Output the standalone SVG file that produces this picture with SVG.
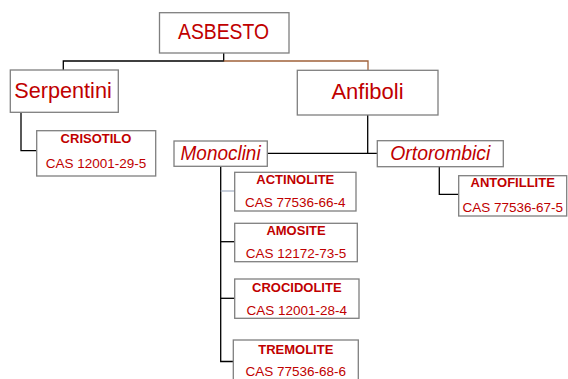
<svg xmlns="http://www.w3.org/2000/svg" width="568" height="379" viewBox="0 0 568 379">
<style>
.box{fill:#fff;stroke:#7f7f7f;stroke-width:1.3}
.big{font-family:"Liberation Sans",Arial,sans-serif;font-size:22px;fill:#c00000;text-anchor:middle}
.it{font-family:"Liberation Sans",Arial,sans-serif;font-size:19.5px;font-style:italic;fill:#c00000;text-anchor:middle}
.nm{font-family:"Liberation Sans",Arial,sans-serif;font-size:13px;font-weight:bold;fill:#c00000;text-anchor:middle}
.cas{font-family:"Liberation Sans",Arial,sans-serif;font-size:13.5px;fill:#c00000;text-anchor:middle}
.ln{fill:none;stroke:#000;stroke-width:1.3}
</style>
<rect width="568" height="379" fill="#fff"/>
<g id="connectors">
<polyline class="ln" points="223.7,53 223.7,61 63.3,61 63.3,70"/>
<polyline class="ln" points="223.7,61 368,61 368,70.3" style="stroke:#a0623a"/>
<polyline class="ln" points="21,112.3 21,150.7 36.7,150.7"/>
<polyline class="ln" points="367.7,115 367.7,153.3"/>
<line class="ln" x1="267.3" y1="153.3" x2="377.3" y2="153.3"/>
<polyline class="ln" points="439.3,166.7 439.3,194.3 458.7,194.3"/>
<polyline class="ln" points="220.7,166.3 220.7,361.5 233.3,361.5"/>
<line class="ln" x1="220.7" y1="191" x2="234.7" y2="191" style="stroke:#a9b4c6"/>
<line class="ln" x1="220.7" y1="241.7" x2="234.7" y2="241.7"/>
<line class="ln" x1="220.7" y1="298.3" x2="234.7" y2="298.3"/>
</g>
<g id="asbesto">
<rect class="box" x="159.5" y="12.7" width="129.5" height="40.3"/>
<text class="big" x="223.5" y="39" textLength="91" lengthAdjust="spacingAndGlyphs">ASBESTO</text>
</g>
<g id="serpentini">
<rect class="box" x="10.3" y="70" width="108" height="42.3"/>
<text class="big" x="63" y="97.7" textLength="97.5" lengthAdjust="spacingAndGlyphs">Serpentini</text>
</g>
<g id="anfiboli">
<rect class="box" x="297.3" y="70.3" width="140.7" height="44.7"/>
<text class="big" x="367.5" y="99.3">Anfiboli</text>
</g>
<g id="crisotilo">
<rect class="box" x="36.7" y="130.7" width="119" height="45.3"/>
<text class="nm" x="96" y="143.3">CRISOTILO</text>
<text class="cas" x="96" y="168">CAS 12001-29-5</text>
</g>
<g id="monoclini">
<rect class="box" x="174" y="141" width="93.3" height="25.3"/>
<text class="it" x="220.6" y="159.5" textLength="80" lengthAdjust="spacingAndGlyphs">Monoclini</text>
</g>
<g id="ortorombici">
<rect class="box" x="377.3" y="140.7" width="126" height="26"/>
<text class="it" x="440.3" y="159.5" textLength="100" lengthAdjust="spacingAndGlyphs">Ortorombici</text>
</g>
<g id="antofillite">
<rect class="box" x="458.7" y="175.7" width="108" height="40.3"/>
<text class="nm" x="512.7" y="187">ANTOFILLITE</text>
<text class="cas" x="512.7" y="211.7">CAS 77536-67-5</text>
</g>
<g id="actinolite">
<rect class="box" x="234.7" y="172.3" width="121.3" height="38.7"/>
<text class="nm" x="295.3" y="183.5">ACTINOLITE</text>
<text class="cas" x="295.3" y="207.3">CAS 77536-66-4</text>
</g>
<g id="amosite">
<rect class="box" x="234.7" y="223.3" width="122.6" height="38.4"/>
<text class="nm" x="296" y="235">AMOSITE</text>
<text class="cas" x="296" y="258.3">CAS 12172-73-5</text>
</g>
<g id="crocidolite">
<rect class="box" x="234.7" y="279" width="124.3" height="39.3"/>
<text class="nm" x="296.8" y="291.7">CROCIDOLITE</text>
<text class="cas" x="296.8" y="315">CAS 12001-28-4</text>
</g>
<g id="tremolite">
<rect class="box" x="233.3" y="340" width="125" height="45"/>
<text class="nm" x="295.8" y="354">TREMOLITE</text>
<text class="cas" x="295.8" y="376">CAS 77536-68-6</text>
</g>
</svg>
